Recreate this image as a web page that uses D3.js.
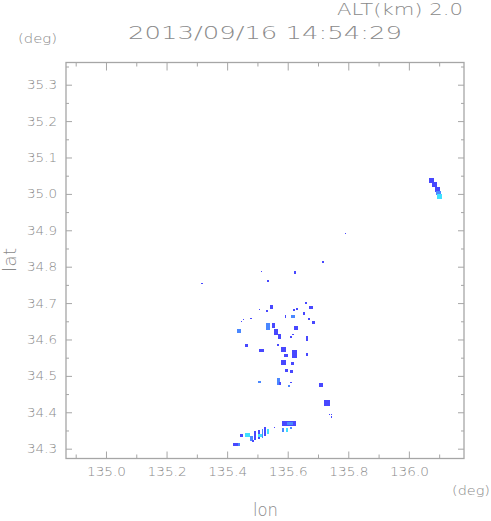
<!DOCTYPE html>
<html>
<head>
<meta charset="utf-8">
<script src="https://cdn.jsdelivr.net/npm/d3@7"></script>
<style>
  body { margin: 0; background: #fff; }
  svg { display: block; }
  text { font-family: "DejaVu Sans", sans-serif; font-weight: 200; fill: #8a8a8a; }
  .tick line { stroke: #a6a6a6; }
</style>
</head>
<body>
<script>
//------------------------------------------------------------------------------
// Data
//------------------------------------------------------------------------------

var titleTime = "2013/09/16 14:54:29";
var altLabel = "ALT(km) 2.0";

var lonDomain = [134.868, 136.182];
var latDomain = [34.273, 35.361];

var lonMajorTicks = [135.0, 135.2, 135.4, 135.6, 135.8, 136.0];
var lonMinorTicks = [134.9, 135.1, 135.3, 135.5, 135.7, 135.9, 136.1];
var latMajorTicks = [34.3, 34.4, 34.5, 34.6, 34.7, 34.8, 34.9, 35.0, 35.1, 35.2, 35.3];
var latMinorTicks = [34.35, 34.45, 34.55, 34.65, 34.75, 34.85, 34.95, 35.05, 35.15, 35.25, 35.35];

// echo cells: centre lon/lat, extent in degrees, echo level
var echoLon = [
  135.715, 135.512, 135.624, 135.535, 135.317, 135.792,
  135.548, 135.531, 135.508, 135.620, 135.630, 135.660, 135.677, 135.653,
  135.617, 135.594, 135.670, 135.686, 135.455, 135.446, 135.479,
  135.439, 135.535, 135.554, 135.561, 135.574, 135.627, 135.611, 135.617, 135.663,
  135.465, 135.568, 135.515, 135.587, 135.624, 135.594, 135.587, 135.617, 135.663,
  135.597, 135.614, 135.508, 135.568, 135.574, 135.611, 135.604, 135.710,
  135.729, 135.739, 135.746, 135.743,
  136.074, 136.084, 136.094, 136.099, 136.102,
  135.604, 135.607, 135.584, 135.597, 135.611, 135.558,
  135.492, 135.505, 135.517, 135.525, 135.535, 135.508,
  135.449, 135.467, 135.480, 135.485, 135.426, 135.439
];
var echoLat = [
  34.813, 34.787, 34.784, 34.760, 34.754, 34.891,
  34.688, 34.677, 34.683, 34.680, 34.683, 34.699, 34.688, 34.672,
  34.663, 34.663, 34.655, 34.647, 34.655, 34.650, 34.658,
  34.622, 34.636, 34.639, 34.620, 34.607, 34.631, 34.607, 34.614, 34.603,
  34.584, 34.584, 34.570, 34.573, 34.559, 34.557, 34.537, 34.534, 34.559,
  34.515, 34.512, 34.482, 34.485, 34.479, 34.482, 34.471, 34.476,
  34.426, 34.394, 34.393, 34.387,
  35.038, 35.026, 35.013, 35.003, 34.994,
  34.370, 34.369, 34.352, 34.352, 34.356, 34.358,
  34.335, 34.340, 34.343, 34.346, 34.346, 34.337,
  34.337, 34.337, 34.327, 34.320, 34.312, 34.312
];
var echoDLon = [
  0.0066, 0.0033, 0.0066, 0.0050, 0.0066, 0.0033,
  0.0099, 0.0066, 0.0033, 0.0066, 0.0066, 0.0066, 0.0132, 0.0066,
  0.0132, 0.0033, 0.0066, 0.0099, 0.0033, 0.0033, 0.0066,
  0.0132, 0.0132, 0.0099, 0.0132, 0.0099, 0.0132, 0.0066, 0.0066, 0.0066,
  0.0099, 0.0066, 0.0165, 0.0165, 0.0165, 0.0132, 0.0165, 0.0099, 0.0066,
  0.0099, 0.0099, 0.0099, 0.0099, 0.0066, 0.0066, 0.0066, 0.0132,
  0.0215, 0.0033, 0.0033, 0.0033,
  0.0165, 0.0165, 0.0165, 0.0165, 0.0165,
  0.0462, 0.0200, 0.0066, 0.0066, 0.0066, 0.0033,
  0.0066, 0.0066, 0.0050, 0.0066, 0.0050, 0.0132,
  0.0099, 0.0165, 0.0099, 0.0066, 0.0165, 0.0066
];
var echoDLat = [
  0.0055, 0.0028, 0.0083, 0.0055, 0.0028, 0.0028,
  0.0110, 0.0055, 0.0028, 0.0055, 0.0055, 0.0055, 0.0083, 0.0083,
  0.0083, 0.0083, 0.0055, 0.0083, 0.0028, 0.0028, 0.0028,
  0.0110, 0.0193, 0.0138, 0.0165, 0.0138, 0.0110, 0.0055, 0.0028, 0.0138,
  0.0083, 0.0055, 0.0083, 0.0138, 0.0220, 0.0083, 0.0138, 0.0083, 0.0083,
  0.0083, 0.0083, 0.0055, 0.0193, 0.0083, 0.0028, 0.0055, 0.0110,
  0.0165, 0.0028, 0.0028, 0.0028,
  0.0138, 0.0138, 0.0138, 0.0110, 0.0138,
  0.0138, 0.0083, 0.0110, 0.0110, 0.0055, 0.0028,
  0.0248, 0.0248, 0.0248, 0.0248, 0.0138, 0.0083,
  0.0083, 0.0110, 0.0138, 0.0055, 0.0083, 0.0083
];
var echoLevel = [
  1, 1, 1, 1, 1, 1,
  1, 1, 1, 1, 1, 1, 1, 1,
  2, 1, 1, 1, 1, 1, 1,
  2, 2, 1, 1, 1, 1, 1, 1, 1,
  1, 1, 1, 1, 1, 1, 1, 1, 1,
  1, 1, 2, 2, 1, 1, 2, 1,
  1, 1, 1, 1,
  1, 1, 1, 2, 3,
  1, 2, 2, 3, 2, 1,
  1, 1, 2, 1, 3, 3,
  1, 3, 2, 1, 1, 2
];

var levelColors = ["#4848ff", "#4a88ff", "#40e0ff"];

//------------------------------------------------------------------------------
// Layout
//------------------------------------------------------------------------------

var width = 491, height = 521;
var plot = {left: 66, top: 62.5, right: 464, bottom: 458.5};

var svg = d3.select("body").append("svg")
  .attr("width", width)
  .attr("height", height);

var x = d3.scaleLinear().domain(lonDomain).range([plot.left, plot.right]);
var y = d3.scaleLinear().domain(latDomain).range([plot.bottom, plot.top]);
var color = d3.scaleOrdinal().domain([1, 2, 3]).range(levelColors);

//--------------------------------------
// Echoes
//--------------------------------------

var echoes = echoLon.map(function(lon, i) {
  return {lon: lon, lat: echoLat[i], dlon: echoDLon[i], dlat: echoDLat[i], level: echoLevel[i]};
});

svg.append("g")
  .attr("class", "echoes")
  .selectAll("rect")
  .data(echoes)
  .enter().append("rect")
    .attr("x", function(d) { return x(d.lon - d.dlon / 2); })
    .attr("y", function(d) { return y(d.lat + d.dlat / 2); })
    .attr("width", function(d) { return x(d.lon + d.dlon / 2) - x(d.lon - d.dlon / 2); })
    .attr("height", function(d) { return y(d.lat - d.dlat / 2) - y(d.lat + d.dlat / 2); })
    .attr("fill", function(d) { return color(d.level); })
    .attr("shape-rendering", "crispEdges");

//--------------------------------------
// Axes
//--------------------------------------

function tickAxis(axis, g) {
  g.call(axis);
  g.select(".domain").remove();
  return g;
}

var fmt = d3.format(".1f");

var xBottom = tickAxis(d3.axisBottom(x).tickValues(lonMajorTicks).tickSize(-7).tickPadding(9).tickFormat(fmt),
  svg.append("g").attr("transform", "translate(0," + plot.bottom + ")"));
tickAxis(d3.axisBottom(x).tickValues(lonMinorTicks).tickSize(-4).tickFormat(""),
  svg.append("g").attr("transform", "translate(0," + plot.bottom + ")"));
tickAxis(d3.axisTop(x).tickValues(lonMajorTicks).tickSize(-8).tickFormat(""),
  svg.append("g").attr("transform", "translate(0," + plot.top + ")"));
tickAxis(d3.axisTop(x).tickValues(lonMinorTicks).tickSize(-4).tickFormat(""),
  svg.append("g").attr("transform", "translate(0," + plot.top + ")"));

var yLeft = tickAxis(d3.axisLeft(y).tickValues(latMajorTicks).tickSize(-6).tickPadding(9).tickFormat(fmt),
  svg.append("g").attr("transform", "translate(" + plot.left + ",0)"));
tickAxis(d3.axisLeft(y).tickValues(latMinorTicks).tickSize(-3).tickFormat(""),
  svg.append("g").attr("transform", "translate(" + plot.left + ",0)"));
tickAxis(d3.axisRight(y).tickValues(latMajorTicks).tickSize(-6).tickFormat(""),
  svg.append("g").attr("transform", "translate(" + plot.right + ",0)"));
tickAxis(d3.axisRight(y).tickValues(latMinorTicks).tickSize(-3).tickFormat(""),
  svg.append("g").attr("transform", "translate(" + plot.right + ",0)"));

svg.selectAll(".tick text")
  .attr("font-family", null)
  .attr("font-size", null)
  .style("font-size", "12.5px");

xBottom.selectAll(".tick text")
  .attr("textLength", 39)
  .attr("lengthAdjust", "spacingAndGlyphs");
yLeft.selectAll(".tick text")
  .attr("textLength", 30)
  .attr("lengthAdjust", "spacingAndGlyphs");

// frame
svg.append("rect")
  .attr("x", plot.left)
  .attr("y", plot.top)
  .attr("width", plot.right - plot.left)
  .attr("height", plot.bottom - plot.top)
  .attr("fill", "none")
  .attr("stroke", "#a6a6a6")
  .attr("stroke-width", 1.3);

//--------------------------------------
// Labels
//--------------------------------------

function label(txt, px, py, size, len, anchor) {
  return svg.append("text")
    .attr("x", px)
    .attr("y", py)
    .attr("text-anchor", anchor || "start")
    .attr("textLength", len)
    .attr("lengthAdjust", "spacingAndGlyphs")
    .style("font-size", size + "px")
    .text(txt);
}

label(altLabel, 337, 14.5, 15.5, 126);
label(titleTime, 128, 38.5, 18.5, 274);
label("(deg)", 18, 43, 12.5, 39);
label("(deg)", 452, 495, 12.5, 38);
label("lon", 265.5, 516, 17, 25, "middle");

svg.append("text")
  .attr("transform", "translate(16,260) rotate(-90)")
  .attr("text-anchor", "middle")
  .attr("textLength", 24)
  .attr("lengthAdjust", "spacingAndGlyphs")
  .style("font-size", "17px")
  .text("lat");
</script>
</body>
</html>
